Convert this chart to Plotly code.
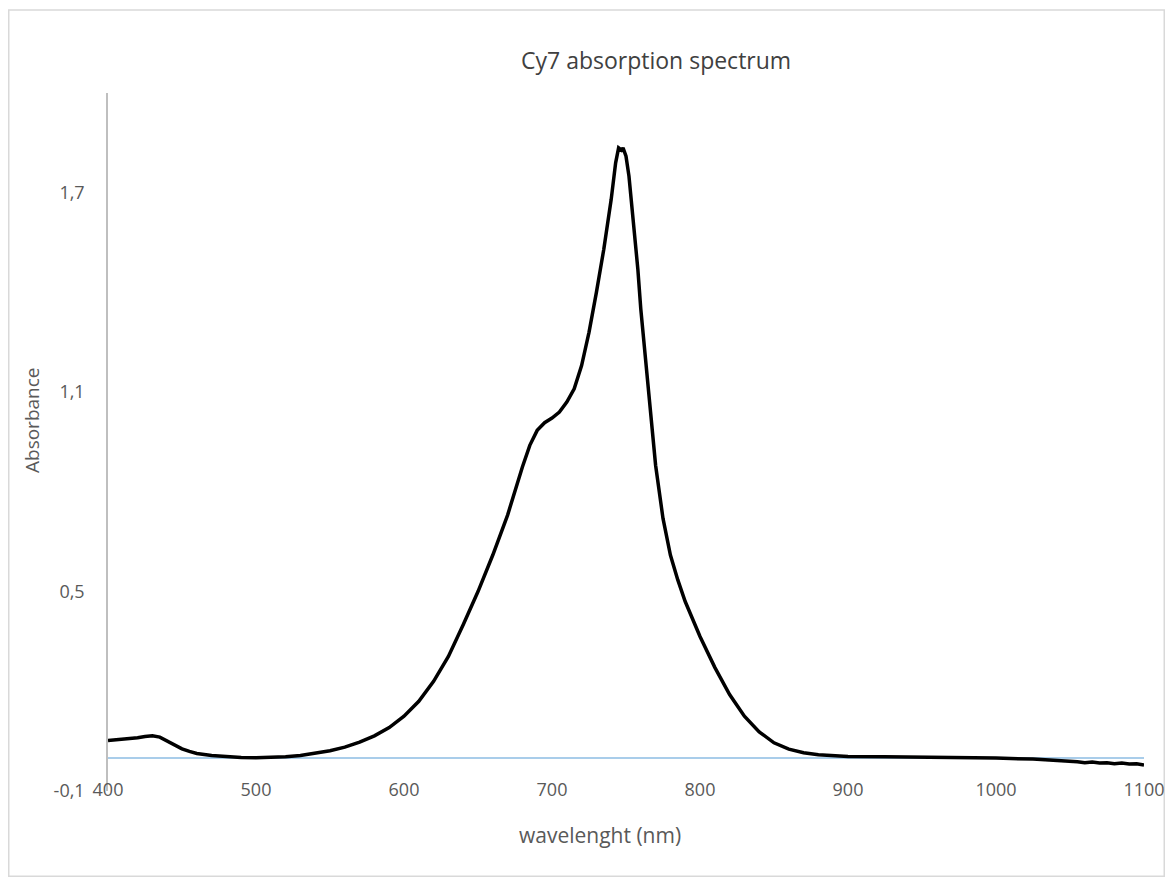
import plotly.graph_objects as go

# ---- data ----
wavelength_nm = [400, 410, 420, 425, 430, 435, 440, 445, 450, 455, 460, 470, 480, 490,
                 500, 510, 520, 530, 540, 550, 560, 570, 580, 590, 600, 610, 620, 630,
                 640, 650, 660, 670, 680, 685, 690, 695, 700, 705, 710, 715, 720, 725,
                 730, 735, 740, 743, 745, 747, 748, 750, 752, 755, 758, 760, 765, 770,
                 775, 780, 785, 790, 800, 810, 820, 830, 840, 850, 860, 870, 880, 890,
                 900, 925, 950, 975, 1000, 1025, 1040, 1050, 1055, 1060, 1065, 1070,
                 1075, 1080, 1085, 1090, 1095, 1100]
absorbance = [0.052, 0.055, 0.060, 0.064, 0.066, 0.062, 0.050, 0.038, 0.027, 0.019, 0.013,
              0.007, 0.003, 0.001, 0.000, 0.001, 0.003, 0.007, 0.013, 0.021, 0.032, 0.047,
              0.066, 0.091, 0.125, 0.170, 0.230, 0.305, 0.400, 0.500, 0.610, 0.730, 0.875,
              0.940, 0.985, 1.008, 1.022, 1.040, 1.070, 1.110, 1.180, 1.280, 1.400, 1.530,
              1.680, 1.790, 1.835, 1.828, 1.835, 1.810, 1.750, 1.620, 1.470, 1.350, 1.110,
              0.880, 0.720, 0.610, 0.535, 0.470, 0.365, 0.272, 0.190, 0.125, 0.078, 0.045,
              0.026, 0.015, 0.009, 0.006, 0.004, 0.003, 0.002, 0.001, -0.001, -0.004,
              -0.007, -0.010, -0.012, -0.015, -0.013, -0.016, -0.015, -0.018, -0.016,
              -0.019, -0.018, -0.022]
x_ticks = [400, 500, 600, 700, 800, 900, 1000, 1100]
y_ticks = [-0.1, 0.5, 1.1, 1.7]
y_tick_text = ["-0,1", "0,5", "1,1", "1,7"]

title_text = "Cy7 absorption spectrum"
x_title = "wavelenght (nm)"
y_title = "Absorbance"

# ---- layout geometry (pixels, in figure coordinates; page has an 8px body margin) ----
W, H = 1157, 869
PL, PR, PT, PB = 100, 1136, 85, 783
TXT = "#595959"
FONT = "Open Sans"


def px(xp):
    return (xp - PL) / (PR - PL)


def py(yp):
    return (PB - yp) / (PB - PT)


fig = go.Figure()
fig.add_trace(go.Scatter(x=wavelength_nm, y=absorbance, mode="lines",
                         line=dict(color="black", width=3.5), showlegend=False))

fig.update_layout(
    width=W, height=H,
    margin=dict(l=PL, r=W - PR, t=PT, b=H - PB, pad=0, autoexpand=False),
    paper_bgcolor="white", plot_bgcolor="white",
    font=dict(family=FONT, color=TXT, size=18),
    xaxis=dict(range=[400, 1100], tickvals=x_ticks, showgrid=False, zeroline=False,
               showline=False, ticks="", tickfont=dict(size=18, color=TXT),
               ticklabelstandoff=-14, ticklabeloverflow="allow", automargin=False),
    yaxis=dict(range=[-0.1, 2.0], tickvals=y_ticks, ticktext=y_tick_text, showgrid=False,
               showline=True, linecolor="#bfbfbf", linewidth=1.5,
               zeroline=True, zerolinecolor="#a9cdea", zerolinewidth=1.5,
               ticks="", tickfont=dict(size=18, color=TXT), ticklabelstandoff=18,
               ticklabeloverflow="allow", automargin=False),
    shapes=[dict(type="rect", xref="paper", yref="paper",
                 x0=px(0.75), x1=px(W - 0.75), y0=py(2), y1=py(H - 0.75),
                 line=dict(color="#d9d9d9", width=1.5), layer="below")],
    annotations=[
        dict(text=title_text, xref="paper", yref="paper", x=px(648), y=py(52),
             showarrow=False, xanchor="center", yanchor="middle",
             font=dict(size=23, color="#404040", family=FONT)),
        dict(text=x_title, xref="paper", yref="paper", x=px(592), y=py(827),
             showarrow=False, xanchor="center", yanchor="middle",
             font=dict(size=21, color=TXT, family=FONT)),
        dict(text=y_title, xref="paper", yref="paper", x=px(24), y=py(412),
             showarrow=False, xanchor="center", yanchor="middle", textangle=-90,
             font=dict(size=19, color=TXT, family=FONT)),
    ],
)

fig.write_html("out.html")
